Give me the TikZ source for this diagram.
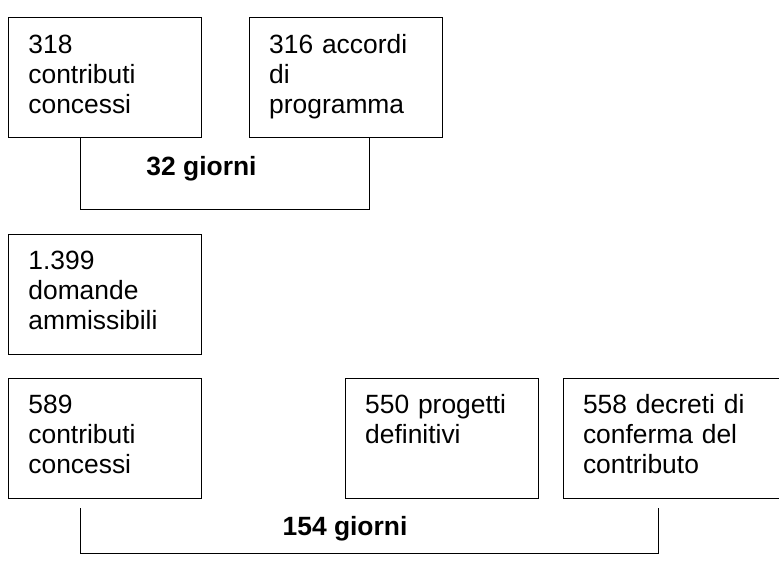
\documentclass[tikz,border=0pt]{standalone}
\usepackage{fontspec}
\setmainfont{Liberation Sans}
\usetikzlibrary{
  positioning,  % Function "of" (e.g. [right=of x])
  calc,         % Calculations $...$
}
\def\mytext{\fontsize{13.2}{15}\selectfont}
\def\myhgap{23.5pt}
\def\myvgap{11.5pt}
\tikzset{
  font=\mytext,
  line width=1pt,
  my box/.style={
    draw,
    rectangle,
    align=left,
    minimum width=96.5pt,
    inner xsep=10pt,
    inner ysep=8.3pt,
    text width=76.5pt,
    text height=9.5pt,
    text depth=33.9pt
  },
  my wide/.style={
    text width=88pt
  },
  my days/.style={
    font=\mytext\bfseries,
    anchor=base,
    inner sep=0pt
  }
}
\begin{document}
\begin{tikzpicture}[x=0.5pt,y=-0.5pt]
\useasboundingbox (0,0) rectangle (779,562);
\node[my box,anchor=north west] (c318) at (8,17) {318\\contributi\\concessi};
\node[my box] (c316) [right=\myhgap of c318] {316 accordi\\di\\programma};
\node[my box] (d1399) [below=48pt of c318] {1.399\\domande\\ammissibili};
\node[my box] (c589) [below=\myvgap of d1399] {589\\contributi\\concessi};
\node[my box] (p550) [right=71.5pt of c589] {550 progetti\\definitivi};
\node[my box,my wide] (d558) [right=12pt of p550] {558 decreti di\\conferma del\\contributo};
% brackets
\draw ($(c318.south west)+(72,0)$) -- ++(0,72) -| ($(c316.south west)+(121,0)$);
\draw ($(c589.south west)+(72,10)$) -- ++(0,45) -| ($(d558.south west)+(96,10)$);
\node[my days] (g32)  at (201.5,175) {32 giorni};
\node[my days] (g154) at (345,535)   {154 giorni};
\end{tikzpicture}
\end{document}
